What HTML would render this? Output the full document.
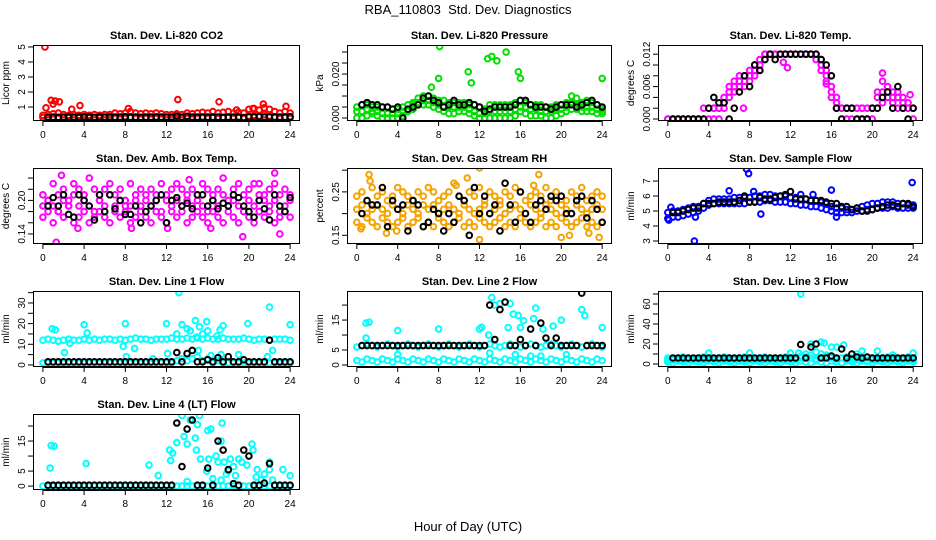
<!DOCTYPE html>
<html><head><meta charset="utf-8"><style>
html,body{margin:0;padding:0;background:#fff;}
svg{display:block;font-family:"Liberation Sans",sans-serif;}
</style></head><body>
<svg id="chart" width="936" height="540" viewBox="0 0 936 540" xmlns="http://www.w3.org/2000/svg">
<rect x="0" y="0" width="936" height="540" fill="#fff"/>
<text x="468" y="14" text-anchor="middle" font-size="13">RBA_110803&#160; Std. Dev. Diagnostics</text>
<text x="468" y="531" text-anchor="middle" font-size="13">Hour of Day (UTC)</text>
</svg>
<script>
// ---------- data ----------
const xTicks = [0,4,8,12,16,20,24];

const co2A = [0.45,0.5,0.55,0.6,0.5,0.45,0.5,0.45,0.5,0.45,0.5,0.45,0.5,0.5,0.6,0.55,0.6,0.7,0.6,0.55,0.6,0.55,0.6,0.55,0.5,0.5,0.55,0.5,0.6,0.55,0.6,0.65,0.6,0.7,0.6,0.65,0.7,0.6,0.65,0.6,0.85,0.9,0.8,0.95,0.85,0.7,0.6,0.7,0.6];
const co2B = [0.3,0.28,0.3,0.28,0.3,0.28,0.3,0.28,0.3,0.28,0.3,0.28,0.3,0.28,0.3,0.28,0.3,0.28,0.3,0.28,0.3,0.28,0.3,0.28,0.3,0.28,0.3,0.28,0.3,0.28,0.3,0.28,0.3,0.28,0.3,0.28,0.3,0.28,0.3,0.28,0.4,0.45,0.4,0.5,0.4,0.3,0.28,0.3,0.28];
const co2Out = [[0.2,5],[0.3,0.95],[0.8,1.45],[1,1.2],[1.2,1.4],[1.6,1.35],[2.8,0.85],[3.6,1.1],[13.1,1.5],[17.1,1.35],[8.3,0.9],[21.4,1.2],[23.6,1.05],[20.4,0.9],[18.8,0.8]];
const co2Blk = [0.33,0.33,0.32,0.33,0.34,0.33,0.33,0.35,0.33,0.32,0.33,0.33,0.34,0.33,0.33,0.35,0.33,0.33,0.32,0.33,0.33,0.34,0.33,0.33,0.33,0.4,0.33,0.38,0.33,0.33,0.34,0.33,0.33,0.33,0.32,0.33,0.33,0.34,0.3,0.33,0.33,0.35,0.33,0.33,0.34,0.33,0.33,0.35];

const prsA = [0.005,0.006,0.006,0.005,0.005,0.005,0.005,0.004,0.004,0.005,0.006,0.007,0.009,0.010,0.010,0.009,0.008,0.008,0.007,0.007,0.007,0.007,0.006,0.006,0.005,0.004,0.006,0.006,0.006,0.006,0.006,0.007,0.008,0.007,0.006,0.006,0.006,0.005,0.005,0.006,0.006,0.007,0.010,0.009,0.007,0.008,0.007,0.006,0.004];
const prsB = [0.000,0.000,0.001,0.002,0.001,0.000,0.000,0.000,0.000,0.001,0.003,0.004,0.006,0.006,0.006,0.005,0.004,0.003,0.002,0.002,0.003,0.003,0.002,0.001,0.000,0.000,0.000,0.000,0.000,0.000,0.000,0.001,0.003,0.002,0.001,0.001,0.001,0.000,0.000,0.001,0.002,0.003,0.004,0.004,0.003,0.003,0.003,0.002,0.002];
const prsC = [0.003,0.003,0.004,0.003,0.003,0.002,0.002,0.002,0.002,0.003,0.004,0.006,0.007,0.008,0.008,0.007,0.006,0.005,0.005,0.005,0.005,0.005,0.004,0.003,0.002,0.002,0.003,0.003,0.003,0.003,0.003,0.004,0.005,0.005,0.004,0.004,0.003,0.003,0.003,0.004,0.004,0.005,0.007,0.006,0.005,0.005,0.005,0.004,0.003];
const prsOut = [[7.3,0.014],[8.1,0.0325],[8,0.018],[10.9,0.021],[11.2,0.016],[12.8,0.027],[13.2,0.028],[13.7,0.026],[14.6,0.030],[15.8,0.021],[16,0.018],[24,0.018]];
const prsBlk = [0.006,0.007,0.006,0.006,0.005,0.005,0.004,0.005,0.000,0.004,0.005,0.006,0.009,0.010,0.008,0.007,0.005,0.006,0.008,0.006,0.006,0.007,0.006,0.005,0.003,0.004,0.005,0.005,0.005,0.005,0.006,0.008,0.008,0.006,0.005,0.005,0.005,0.004,0.005,0.006,0.006,0.006,0.005,0.006,0.007,0.008,0.006,0.005];

const tmpA = [0,0,0,0,0,0,0,0.002,0.002,0.002,0.002,0.004,0.006,0.007,0.008,0.008,0.009,0.010,0.011,0.012,0.012,0.012,0.012,0.012,0.012,0.012,0.012,0.012,0.012,0.012,0.011,0.009,0.006,0.004,0.002,0.002,0.002,0.002,0.002,0.002,0.002,0.005,0.007,0.006,0.005,0.005,0.004,0.003,0.002];
const tmpB = [0,0,0,0,0,0,0,0,0,0,0,0.002,0.004,0.005,0.006,0.006,0.007,0.008,0.009,0.011,0.012,0.012,0.012,0.012,0.012,0.012,0.012,0.012,0.012,0.011,0.009,0.007,0.004,0.002,0.002,0,0,0,0,0,0,0.002,0.003,0.004,0.003,0.002,0.002,0.002,0.002];
const tmpC = [0,0,0,0,0,0,0,0,0.002,0.002,0.002,0.003,0.005,0.006,0.007,0.007,0.008,0.009,0.010,0.012,0.012,0.012,0.012,0.012,0.012,0.012,0.012,0.012,0.012,0.012,0.010,0.008,0.005,0.003,0.002,0,0.002,0,0.002,0,0.002,0.004,0.005,0.005,0.004,0.004,0.003,0.002,0];
const tmpOut = [[7.4,0.002],[11.3,0.0105],[11.7,0.0095],[21,0.0085],[23.7,0.0045],[15.5,0.0065]];
const tmpBlk = [0,0,0,0,0,0,0,0.002,0.004,0.003,0.003,0,0.002,0.005,0.008,0.006,0.010,0.009,0.011,0.012,0.011,0.012,0.012,0.012,0.012,0.012,0.012,0.012,0.012,0.011,0.010,0.008,0.002,0,0.002,0.002,0,0,0,0.002,0.002,0.004,0.005,0.002,0.006,0.002,0,0.002];

const ambA = [.21,.20,.23,.21,.22,.20,.23,.22,.21,.24,.22,.20,.22,.23,.21,.22,.20,.23,.21,.22,.21,.22,.20,.23,.21,.22,.23,.22,.20,.22,.21,.23,.22,.21,.22,.24,.20,.22,.23,.21,.22,.23,.21,.20,.22,.23,.21,.22,.21];
const ambB = [.17,.18,.16,.18,.17,.19,.16,.17,.18,.16,.17,.18,.17,.16,.18,.17,.19,.16,.17,.18,.17,.16,.18,.17,.16,.18,.17,.19,.16,.17,.18,.17,.16,.18,.17,.16,.18,.17,.16,.18,.17,.16,.18,.17,.18,.16,.17,.18,.17];
const ambC = [.19,.20,.19,.18,.20,.19,.21,.19,.20,.19,.18,.20,.19,.21,.19,.20,.18,.19,.20,.19,.20,.19,.21,.18,.20,.19,.20,.18,.21,.19,.20,.19,.18,.20,.19,.21,.19,.20,.19,.18,.20,.19,.20,.21,.19,.20,.18,.19,.20];
const ambOut = [[1.3,0.125],[1.8,0.245],[14.2,0.237],[22.5,0.249],[19.4,0.135],[23,0.14],[21,0.23],[3.4,0.15],[8.6,0.15],[12.1,0.15],[16.3,0.15]];
const ambBlk = [.19,.205,.19,.21,.175,.17,.21,.20,.19,.165,.21,.18,.21,.185,.20,.175,.175,.19,.16,.18,.19,.20,.21,.16,.20,.205,.19,.195,.185,.21,.21,.19,.20,.185,.195,.19,.21,.205,.19,.18,.17,.20,.185,.165,.21,.19,.18,.205];

const rhA = [.24,.25,.23,.26,.24,.25,.23,.24,.26,.25,.24,.23,.25,.24,.26,.25,.23,.24,.25,.27,.24,.23,.25,.24,.26,.23,.25,.24,.23,.25,.24,.26,.25,.23,.24,.25,.24,.26,.23,.25,.24,.23,.25,.24,.26,.23,.24,.25,.24];
const rhB = [.18,.17,.19,.18,.17,.19,.18,.17,.18,.19,.17,.18,.19,.17,.18,.17,.19,.18,.17,.18,.19,.17,.18,.17,.19,.18,.17,.18,.19,.17,.18,.17,.19,.18,.17,.18,.19,.17,.18,.17,.19,.18,.17,.18,.19,.17,.18,.17,.18];
const rhC = [.21,.22,.20,.21,.22,.21,.20,.22,.21,.20,.22,.21,.20,.22,.21,.22,.20,.21,.22,.21,.20,.22,.21,.20,.21,.22,.20,.21,.22,.20,.21,.22,.21,.20,.22,.21,.20,.22,.21,.20,.22,.21,.20,.22,.21,.20,.21,.22,.21];
const rhOut = [[1.2,.29],[1.3,.275],[0.4,.165],[10.8,.282],[9.7,.265],[12,.305],[12,.14],[17.3,.265],[17.8,.29],[20,.145],[20.8,.15],[22.7,.155],[23.7,.145],[3.9,.16],[2.9,.155]];
const rhBlk = [.20,.23,.22,.22,.26,.17,.23,.21,.22,.16,.23,.22,.17,.18,.21,.20,.16,.20,.18,.24,.23,.15,.26,.20,.24,.20,.22,.16,.27,.22,.18,.25,.20,.18,.22,.23,.21,.24,.23,.24,.20,.20,.23,.24,.19,.23,.21,.18];

const sfA = [4.9,5.0,5.0,5.1,5.2,5.3,5.3,5.5,5.7,5.8,5.8,5.8,5.8,5.9,5.9,5.9,5.9,6.0,6.0,6.1,6.1,6.0,6.0,6.0,5.9,5.9,5.8,5.8,5.7,5.7,5.6,5.5,5.3,5.2,5.2,5.1,5.1,5.2,5.3,5.4,5.5,5.5,5.6,5.6,5.6,5.5,5.5,5.4,5.4];
const sfB = [4.5,4.6,4.6,4.7,4.8,4.9,5.0,5.2,5.4,5.5,5.5,5.5,5.5,5.5,5.5,5.5,5.6,5.6,5.6,5.7,5.7,5.6,5.6,5.6,5.5,5.5,5.4,5.4,5.3,5.3,5.2,5.1,5.0,4.9,4.9,4.9,4.9,5.0,5.0,5.1,5.1,5.2,5.2,5.2,5.3,5.2,5.2,5.2,5.2];
const sfOut = [[2.6,3.0],[7.7,7.8],[7.9,7.5],[8.4,6.3],[6,6.35],[9.1,4.8],[16,6.4],[23.9,6.9],[2.7,4.6],[16.5,4.6],[14.2,6.1],[13,6.1],[0.1,4.4],[0.3,5.25]];
const sfBlk = [4.9,4.9,5.0,5.1,5.2,5.2,5.5,5.5,5.5,5.6,5.6,5.6,5.6,5.7,6.0,5.6,5.6,5.9,5.8,5.8,5.9,6.0,6.1,6.3,5.8,5.8,5.8,5.7,5.7,5.7,5.6,5.5,5.5,5.3,5.3,5.1,5.2,5.0,5.0,5.1,5.2,5.3,5.4,5.4,5.3,5.5,5.5,5.3];

const l1A = [12,12.5,12,11.5,12,12.5,12,12,12.5,12,12.5,12,12.5,12.5,12,12.5,12,12.5,13,12.5,12.5,12,12.5,12.5,12.5,13,12.5,12.5,13,12.5,13,12.5,13,12.5,12.5,13,12.5,12.5,12.5,13,12.5,12,12.5,12.5,12,12.5,12.5,12.5,12];
const l1B = [1,1,1,1,1,1,1,1,1,1,1,1,1,1,1,1,1,1,1,1,1,1,1,1,1,1,2,3,2,3,4,2,3,1,2,1,1,1,1,1,1,1,1,1,1,1,1,1,1];
const l1Out = [[0.9,17.5],[1.2,17],[2.1,6],[2.6,10.5],[4,19.5],[4.3,15.5],[7.8,9],[8,20],[8.1,4],[8.9,8],[12,20],[12.1,5.5],[13.2,35],[13,15],[13.5,19.5],[14,17.5],[14.3,16.5],[14.8,21.5],[15.2,18.5],[15.5,15],[15.9,21],[16,16.5],[17.2,17],[17.5,19],[19,5],[19.9,20],[22,28],[22.3,7],[24,19.5],[15.1,7],[16.3,4.5],[21.8,4],[17.3,5],[10.7,3],[14.9,13.5],[16.9,14]];
const l1Blk = [1.5,1.5,1.5,1.5,1.5,1.5,1.5,1.5,1.5,1.5,1.5,1.5,1.5,1.5,1.5,1.5,1.5,1.5,1.5,1.5,1.5,1.5,1.5,1.5,1.5,6,1.5,5.5,7,1.5,1.5,2.5,1.5,3.5,1.5,4,1.5,1.5,2.5,1.5,1.5,1.5,1.5,12,1.5,1.5,1.5,1.5];

const l2A = [6,6.5,7,6.5,6,6.5,7,6.5,6,6.5,7,6.5,6,6.5,7,6.5,6,6.5,7,6.5,6,6.5,7,6.5,6,6.5,7,6.5,6,6.5,7,6.5,6,6.5,7,6.5,6,6.5,7,6.5,6,6.5,7,6.5,6,6.5,7,6.5,6];
const l2B = [1.5,1,2,1.5,1,2,1.5,1,2,1.5,1,2,1.5,1,2,1.5,1,2,1.5,1,2,1.5,1,2,1.5,1,2,1.5,1,2,1.5,1,2,1.5,1,2,1.5,1,2,1.5,1,2,1.5,1,2,1.5,1,2,1.5];
const l2Out = [[0.9,14],[1.2,14.3],[0.9,9],[4,11.5],[8,12],[12,12],[12.9,10],[13.2,22.5],[13.5,20],[14,20.5],[14.8,12.5],[15,20.5],[15.3,17],[15.8,16.5],[16.3,14.8],[16,12.5],[17.3,15.5],[17.5,19],[18.2,12],[19.2,13],[20,15],[22,18.5],[22.3,16.5],[24,12.5],[13,4],[15.5,3.5],[4,3.5],[20.5,3.5],[12.2,12.6],[17,3],[18,3]];
const l2Blk = [6.5,6.5,6.5,6.5,6.5,6.5,6.5,6.5,6.5,6.5,6.5,6.5,6.5,6.5,6.5,6.5,6.5,6.5,6.5,6.5,6.5,6.5,6.5,6.5,6.5,20,8.5,18.5,21,6.5,6.5,8.5,6.5,12,6.5,14,9,6.5,9,6.5,6.5,6.5,6.5,24,6.5,6.5,6.5,6.5];

const l3A = [6,5,6,7,6,5,6,7,6,5,6,7,6,5,6,7,6,5,6,7,6,5,6,7,6,5,6,7,6,5,6,7,6,5,6,7,6,5,6,7,6,5,6,7,6,5,6,7,6];
const l3B = [2,1,3,2,1,3,2,1,3,2,1,3,2,1,3,2,1,3,2,1,3,2,1,3,2,1,3,2,1,3,2,1,3,2,1,3,2,1,3,2,1,3,2,1,3,2,1,3,2];
const l3C = [4,4,4,4,4,4,4,4,4,4,4,4,4,4,4,4,4,4,4,4,4,4,4,4,4,4,8,10,9,12,10,9,8,5,6,4,4,4,4,4,4,4,4,4,4,4,4,4,4];
const l3Out = [[13,70],[14,20],[15,22],[15.3,21],[16,17],[16.5,17],[17.2,19],[19,13],[20.5,13],[4,11],[8,11],[12,11],[12.8,11],[24,11],[18.5,10],[22,9]];
const l3Blk = [6,6,6,6,6,6,6,6,6,6,6,6,6,6,6,6,6,6,6,6,6,6,6,6,6,19.5,6,17,20,6,6,8,6,15,6,10,7,6,7,6,6,6,6,6,6,6,6,6];

const l4A = [0,0,0,0,0,0,0,0,0,0,0,0,0,0,0,0,0,0,0,0,0,0,0,0,0,0,0,0,0,0,0,0,0,0,0,0,0,0,0,0,0,0,0,0,0,0,0,0,0];
const l4Out = [[0.7,6],[0.8,13.5],[1.1,13.3],[4.2,7.5],[10.3,7],[11.2,3.5],[12.3,12],[12.4,8.5],[12.6,11],[13,14.5],[13.5,23.5],[13.7,16.5],[14,14],[14.3,22],[14.8,16],[14.9,12],[15,20.5],[15.2,23.5],[15.3,9],[15.9,5],[16,18.5],[16.3,19],[16.1,9],[16.8,10],[17,8],[17.3,15],[17.4,21],[17.6,8],[17.8,4],[18.2,9],[18.5,6.5],[18.7,3.5],[19,9],[19.3,8],[19.8,7],[20.3,14],[20.4,12],[20.7,3],[20.8,5.5],[21.5,4],[22,5.5],[22,8],[23.3,5.5],[24,3.5],[17.3,2],[18,5],[21.2,2],[22.3,2],[14,1.5],[16.5,2.5]];
const l4Blk = [0.3,0.3,0.3,0.3,0.3,0.3,0.3,0.3,0.3,0.3,0.3,0.3,0.3,0.3,0.3,0.3,0.3,0.3,0.3,0.3,0.3,0.3,0.3,0.3,0.3,21,6.5,19,22,0.3,0.3,6,0.3,15,12,5.5,0.8,0.3,12,10,0.3,0.3,1,7.5,0.3,0.3,0.3,0.3];

// ---------- layout ----------
const NS = "http://www.w3.org/2000/svg";
const svg = document.getElementById('chart');
const colX = [[33,300],[347,612],[658,923]];
const rowY = [45,168,291,414];
const panels = [
 {id:'co2',title:'Stan. Dev. Li-820 CO2',ylab:'Licor ppm',c:0,r:0,dom:[0.07,5.13],ticks:[1,2,3,4,5],labs:['1','2','3','4','5'],col:'#ff0000',ser:[co2A,co2B],out:co2Out,blk:co2Blk},
 {id:'pressure',title:'Stan. Dev. Li-820 Pressure',ylab:'kPa',c:1,r:0,dom:[-0.00136,0.0332],ticks:[0,0.005,0.01,0.015,0.02,0.025,0.03],labs:['0.000','','','','0.020','',''],col:'#00e000',ser:[prsA,prsB,prsC],out:prsOut,blk:prsBlk},
 {id:'temp',title:'Stan. Dev. Li-820 Temp.',ylab:'degrees C',c:2,r:0,dom:[-0.00037,0.0137],ticks:[0,0.002,0.004,0.006,0.008,0.01,0.012],labs:['0.000','','','0.006','','','0.012'],col:'#ff00ff',ser:[tmpA,tmpB,tmpC],out:tmpOut,blk:tmpBlk},
 {id:'amb-temp',title:'Stan. Dev. Amb. Box Temp.',ylab:'degrees C',c:0,r:1,dom:[0.122,0.258],ticks:[0.14,0.16,0.18,0.2,0.22,0.24],labs:['0.14','','','0.20','',''],col:'#ff00ff',ser:[ambA,ambB,ambC],out:ambOut,blk:ambBlk},
 {id:'rh',title:'Stan. Dev. Gas Stream RH',ylab:'percent',c:1,r:1,dom:[0.13,0.305],ticks:[0.15,0.2,0.25,0.3],labs:['0.15','','0.25',''],col:'#f5a300',ser:[rhA,rhB,rhC],out:rhOut,blk:rhBlk},
 {id:'sample-flow',title:'Stan. Dev. Sample Flow',ylab:'ml/min',c:2,r:1,dom:[2.8,7.87],ticks:[3,4,5,6,7],labs:['3','4','5','6','7'],col:'#0000ff',ser:[sfA,sfB],out:sfOut,blk:sfBlk},
 {id:'line1',title:'Stan. Dev. Line 1 Flow',ylab:'ml/min',c:0,r:2,dom:[-1,35.8],ticks:[0,5,10,15,20,25,30,35],labs:['0','','10','','20','','30',''],col:'#00ffff',ser:[l1A,l1B],out:l1Out,blk:l1Blk},
 {id:'line2',title:'Stan. Dev. Line 2 Flow',ylab:'ml/min',c:1,r:2,dom:[-0.67,24.7],ticks:[0,5,10,15,20],labs:['0','5','','15',''],col:'#00ffff',ser:[l2A,l2B],out:l2Out,blk:l2Blk},
 {id:'line3',title:'Stan. Dev. Line 3 Flow',ylab:'ml/min',c:2,r:2,dom:[-3,73],ticks:[0,10,20,30,40,50,60,70],labs:['0','','20','','40','','60',''],col:'#00ffff',ser:[l3A,l3B,l3C],out:l3Out,blk:l3Blk},
 {id:'line4',title:'Stan. Dev. Line 4 (LT) Flow',ylab:'ml/min',c:0,r:3,dom:[-1.3,24],ticks:[0,5,10,15,20],labs:['0','5','','15',''],col:'#00ffff',ser:[l4A],out:l4Out,blk:l4Blk}
];

function mk(tag, attrs, parent){
  const e = document.createElementNS(NS, tag);
  for (const k in attrs) e.setAttribute(k, attrs[k]);
  (parent||svg).appendChild(e);
  return e;
}
function txt(s, attrs, parent){ const e = mk('text', attrs, parent); e.textContent = s; return e; }

panels.forEach(p => {
  const x0 = colX[p.c][0], x1 = colX[p.c][1];
  const y0 = rowY[p.r], y1 = y0 + 76;
  const sx = h => x0 + (h + 0.96) / 25.92 * (x1 - x0);
  const sy = v => y1 - (v - p.dom[0]) / (p.dom[1] - p.dom[0]) * (y1 - y0);
  const g = mk('g', {});
  
  

  const clip = mk('clipPath', {id: 'clip-' + p.id}, g);
  mk('rect', {x: x0, y: y0, width: x1 - x0, height: y1 - y0}, clip);

  const t = txt(p.title, {x: (x0 + x1) / 2, y: y0 - 6, 'text-anchor': 'middle', 'font-size': 11, 'font-weight': 'bold'}, g);
  
  

  const yl = txt(p.ylab, {x: 0, y: 0, 'text-anchor': 'middle', 'font-size': 10, transform: 'translate(' + (x0 - 24) + ',' + ((y0 + y1) / 2) + ') rotate(-90)'}, g);
  
  

  const pts = mk('g', {'clip-path': 'url(#clip-' + p.id + ')', fill: 'none', 'stroke-width': 2}, g);
  
  
  p.ser.forEach(arr => {
    arr.forEach((v, i) => {
      const h = i * 24 / (arr.length - 1);
      const c = mk('circle', {cx: sx(h), cy: sy(v), r: 2.8, stroke: p.col}, pts);
      
      
    });
  });
  p.out.forEach(o => {
    const c = mk('circle', {cx: sx(o[0]), cy: sy(o[1]), r: 2.8, stroke: p.col}, pts);
    
    
  });
  p.blk.forEach((v, i) => {
    const h = 0.5 + i * 0.5;
    const c = mk('circle', {cx: sx(h), cy: sy(v), r: 2.8, stroke: '#000'}, pts);
    
    
  });

  const b = mk('rect', {x: x0 + 0.5, y: y0 + 0.5, width: x1 - x0 - 1, height: y1 - y0 - 1, fill: 'none', stroke: '#000', 'stroke-width': 1}, g);
  
  

  mk('line', {x1: sx(0), x2: sx(24), y1: y1 + 0.5, y2: y1 + 0.5, stroke: '#000'}, g);
  xTicks.forEach(h => {
    mk('line', {x1: sx(h), x2: sx(h), y1: y1, y2: y1 + 5, stroke: '#000'}, g);
    const l = txt(String(h), {x: sx(h), y: y1 + 17, 'text-anchor': 'middle', 'font-size': 10}, g);
    
    
  });
  const tk = p.ticks;
  mk('line', {x1: x0 + 0.5, x2: x0 + 0.5, y1: sy(tk[0]), y2: sy(tk[tk.length - 1]), stroke: '#000'}, g);
  tk.forEach((v, i) => {
    mk('line', {x1: x0 - 5, x2: x0, y1: sy(v), y2: sy(v), stroke: '#000'}, g);
    if (p.labs[i]) {
      const l = txt(p.labs[i], {x: 0, y: 0, 'text-anchor': 'middle', 'font-size': 10, transform: 'translate(' + (x0 - 8) + ',' + sy(v) + ') rotate(-90)'}, g);
      
      
    }
  });
});
</script>
</body></html>
